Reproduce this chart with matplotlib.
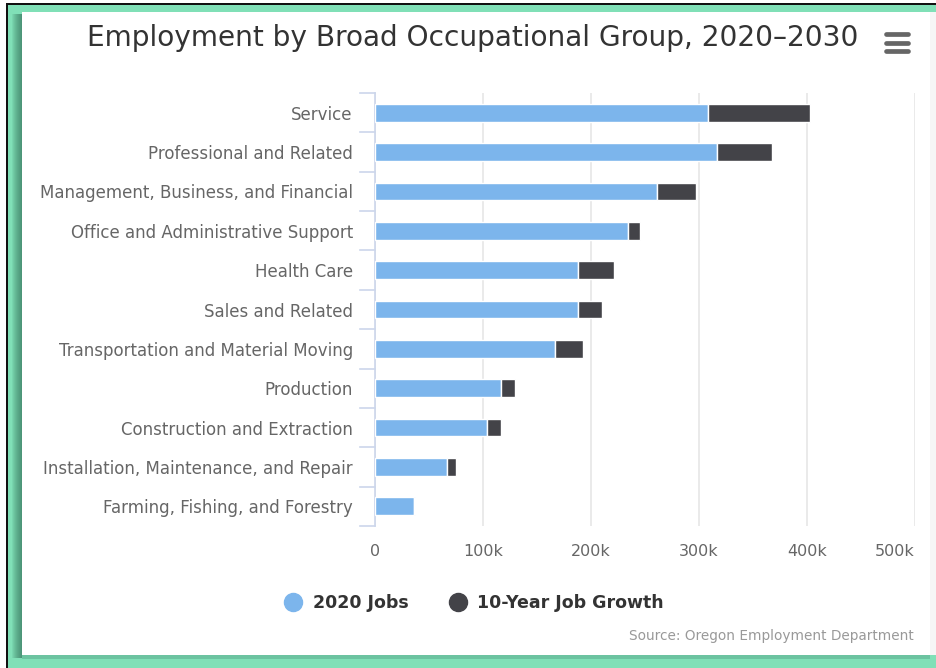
import matplotlib
matplotlib.use("Agg")
import matplotlib.pyplot as plt
from matplotlib.patches import Rectangle
from matplotlib.lines import Line2D
import numpy as np

# occupational groups, top to bottom
groups = [
    "Service",
    "Professional and Related",
    "Management, Business, and Financial",
    "Office and Administrative Support",
    "Health Care",
    "Sales and Related",
    "Transportation and Material Moving",
    "Production",
    "Construction and Extraction",
    "Installation, Maintenance, and Repair",
    "Farming, Fishing, and Forestry",
]
jobs_2020 = [308000, 317000, 261000, 234000, 188000, 188000, 167000, 117000, 104000, 67000, 36000]
growth_10yr = [95000, 51000, 36000, 11000, 33000, 22000, 26000, 13000, 13000, 8000, 1000]
xticks = [0, 100000, 200000, 300000, 400000, 500000]
xtick_labels = ["0", "100k", "200k", "300k", "400k", "500k"]

BLUE = "#7cb5ec"
DARK = "#434348"
W, H = 936, 668

fig = plt.figure(figsize=(W / 100, H / 100), dpi=100)
fig.patch.set_facecolor("white")


def px_rect(x0, y0, x1, y1, **kw):
    # rectangle given in pixel coords measured from the top-left corner
    r = Rectangle((x0 / W, 1 - y1 / H), (x1 - x0) / W, (y1 - y0) / H,
                  transform=fig.transFigure, **kw)
    fig.patches.append(r)
    return r


# green frame, dark edges and panel shadow
px_rect(8, 5, W, H, facecolor="#80e0b7", edgecolor="none", zorder=0)
px_rect(6, 3, 8, H, facecolor="#111111", edgecolor="none", zorder=1)
px_rect(6, 3, W, 5, facecolor="#111111", edgecolor="none", zorder=1)
for i in range(10):
    px_rect(12 + i, 14, 22, 658, facecolor="#2f6a55", edgecolor="none",
            alpha=0.09, zorder=1)
px_rect(22, 655, 930, 659, facecolor="#5aa88a", edgecolor="none", alpha=0.5, zorder=1)
px_rect(930, 12, W, 655, facecolor="#f6f6f6", edgecolor="none", zorder=1)
px_rect(22, 12, 930, 655, facecolor="white", edgecolor="none", zorder=2)

# plot area
left, right, top, bottom = 375, 915, 93, 526
ax = fig.add_axes([left / W, 1 - bottom / H, (right - left) / W, (bottom - top) / H])
ax.set_zorder(5)
ax.patch.set_alpha(0)

y = np.arange(len(groups))
ax.barh(y, jobs_2020, height=0.45, color=BLUE, edgecolor="white", linewidth=1, zorder=3)
ax.barh(y, growth_10yr, left=jobs_2020, height=0.45, color=DARK, edgecolor="white",
        linewidth=1, zorder=3)

ax.set_xlim(0, 500000)
ax.set_ylim(len(groups) - 0.5, -0.5)
ax.set_xticks(xticks)
ax.set_xticklabels(xtick_labels, color="#666666", fontsize=11.5)
ax.get_xticklabels()[-1].set_ha("right")
ax.set_yticks(y)
ax.set_yticklabels(groups, color="#666666", fontsize=12)
ax.tick_params(axis="x", length=0, pad=13)
ax.tick_params(axis="y", length=0, pad=16)
ax.grid(axis="x", color="#e6e6e6", linewidth=1.2, zorder=0)
for s in ["top", "right", "bottom"]:
    ax.spines[s].set_visible(False)
ax.spines["left"].set_color("#ccd6eb")
ax.spines["left"].set_linewidth(1.2)

# category boundary ticks on the left axis
for b in np.arange(len(groups) + 1) - 0.5:
    ax.add_line(Line2D([-0.028, 0], [b, b], transform=ax.get_yaxis_transform(),
                       color="#ccd6eb", linewidth=1.2, clip_on=False))

# title and menu icon
fig.text(473 / W, 1 - 38 / H, "Employment by Broad Occupational Group, 2020\u20132030",
         ha="center", va="center", fontsize=20.2, color="#333333")
for yy in [34, 43, 51]:
    fig.add_artist(Line2D([886 / W, 908 / W], [1 - yy / H, 1 - yy / H],
                          color="#666666", linewidth=3.4, solid_capstyle="round",
                          transform=fig.transFigure, zorder=6))

# legend
fig.add_artist(Line2D([293 / W], [1 - 602 / H], marker="o", markersize=13, color=BLUE,
                      transform=fig.transFigure, zorder=6))
fig.text(313 / W, 1 - 603 / H, "2020 Jobs", ha="left", va="center", fontsize=12.5,
         fontweight="bold", color="#333333")
fig.add_artist(Line2D([458 / W], [1 - 602 / H], marker="o", markersize=13, color=DARK,
                      transform=fig.transFigure, zorder=6))
fig.text(477 / W, 1 - 603 / H, "10-Year Job Growth", ha="left", va="center", fontsize=12.5,
         fontweight="bold", color="#333333")

fig.text(914 / W, 1 - 636 / H, "Source: Oregon Employment Department", ha="right",
         va="center", fontsize=9.8, color="#999999")

fig.savefig("out.png", dpi=100)
